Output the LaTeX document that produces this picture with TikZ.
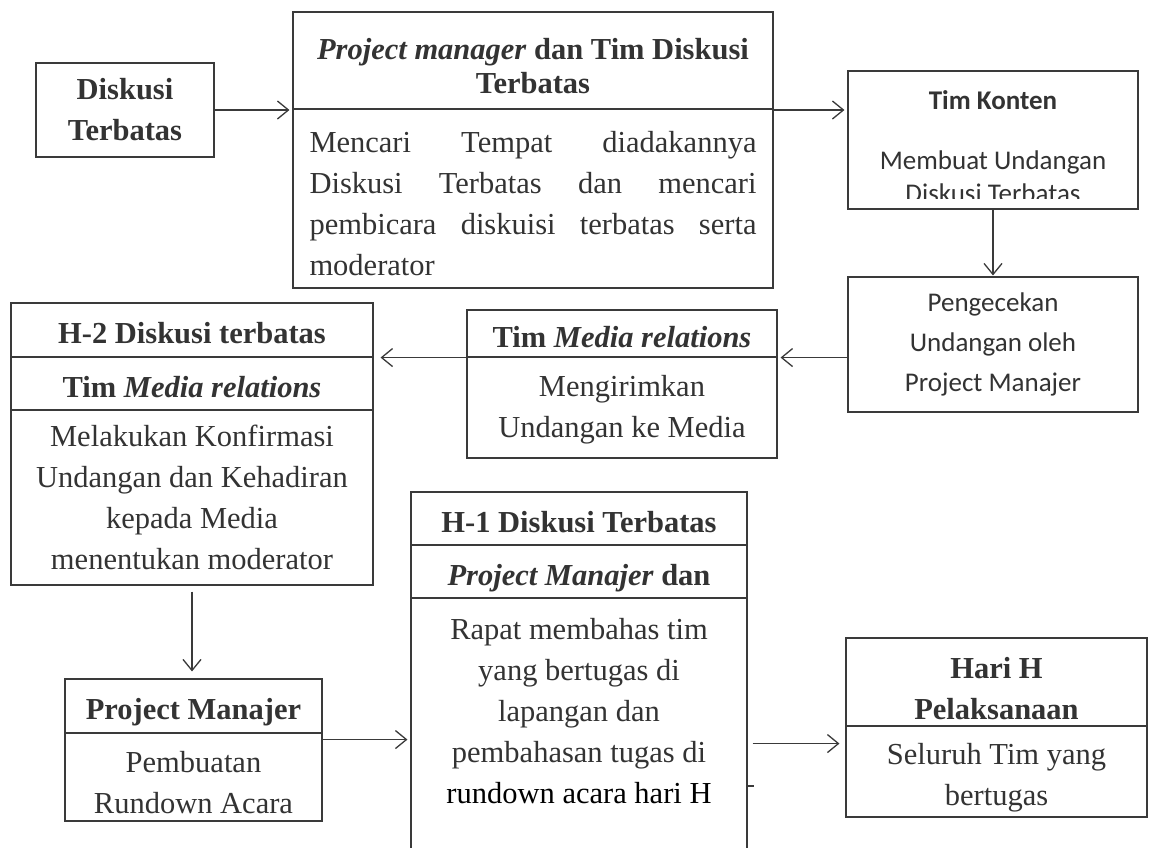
\documentclass[tikz,border=0pt]{standalone}
\usepackage{fontspec}
\setmainfont{Liberation Serif}
\newfontfamily\kalibri{Carlito}
\usetikzlibrary{arrows.meta}

\definecolor{garis}{HTML}{3A3A3A}
\definecolor{teks}{HTML}{333333}

\newcommand{\judul}{\fontsize{30.5pt}{41pt}\selectfont\bfseries}
\newcommand{\judulrapat}{\fontsize{30.5pt}{34pt}\selectfont\bfseries}
\newcommand{\isi}{\fontsize{30.5pt}{41pt}\selectfont}
\newcommand{\kalibrijudul}{\kalibri\fontsize{27pt}{33pt}\selectfont\bfseries}
\newcommand{\kalibriisi}{\kalibri\fontsize{27pt}{33pt}\selectfont}
\newcommand{\kalibrilonggar}{\kalibri\fontsize{27pt}{40pt}\selectfont}

\tikzset{
  kotak/.style={draw=garis, line width=1.1pt, inner sep=0pt, align=center, text=teks},
  judulsatu/.style={font=\judul, text height=27pt, text depth=0pt},
  tulisan/.style={inner sep=0pt, align=center, text=teks},
  panah/.style={draw=garis, line width=1.3pt, -{Straight Barb[length=11pt,width=18pt]}, shorten >=3pt},
}

\begin{document}
\begin{tikzpicture}[x=1pt,y=-1pt]
\useasboundingbox (0,0) rectangle (1151,847);
\fill[white] (0,0) rectangle (1151,847);

% baris atas
\node[kotak, font=\judul, minimum width=178pt, minimum height=94pt] (diskusi) at (125,110) {Diskusi\\Terbatas};

\node[kotak, minimum width=480pt, minimum height=97pt] (pmA) at (533,60.5) {};
\node[tulisan, font=\judulrapat] (pmjudul) at ([yshift=-6pt]pmA.center) {\textit{Project manager} dan Tim Diskusi\\Terbatas};
\node[kotak, minimum width=480pt, minimum height=179pt] (pmB) at (533,198.5) {};
\node[tulisan, font=\isi, text width=447pt, align=justify] (pmisi) at ([yshift=-5pt]pmB.center) {Mencari Tempat diadakannya\linebreak Diskusi Terbatas dan mencari\linebreak pembicara diskuisi terbatas serta\linebreak moderator};

\node[kotak, minimum width=290pt, minimum height=138pt] (konten) at (993,140) {};
\begin{scope}
\clip (konten.north west) rectangle ([yshift=11pt]konten.south east);
\node[tulisan, font=\kalibrijudul] (kontenjudul) at (993,100) {Tim Konten};
\node[tulisan, font=\kalibriisi] (kontenisi) at (993,177) {Membuat Undangan\\Diskusi Terbatas};
\end{scope}

\node[kotak, font=\kalibrilonggar, minimum width=290pt, minimum height=135pt] (cek) at (993,344.5) {Pengecekan\\Undangan oleh\\Project Manajer};

% baris tengah
\node[kotak, judulsatu, minimum width=310pt, minimum height=47pt] (medrelA) at (622,333.5) {Tim \textit{Media relations}};
\node[kotak, minimum width=310pt, minimum height=101pt] (medrelB) at (622,407.5) {};
\node[tulisan, font=\isi] (medrelisi) at ([yshift=-2pt]medrelB.center) {Mengirimkan\\Undangan ke Media};

\node[kotak, judulsatu, minimum width=362pt, minimum height=54pt] (h2A) at (192,330) {H-2 Diskusi terbatas};
\node[kotak, judulsatu, minimum width=362pt, minimum height=53pt] (h2B) at (192,383.5) {Tim \textit{Media relations}};
\node[kotak, font=\isi, minimum width=362pt, minimum height=175pt] (h2C) at (192,497.5) {Melakukan Konfirmasi\\Undangan dan Kehadiran\\kepada Media\\menentukan moderator};

% baris bawah
\node[kotak, judulsatu, minimum width=257pt, minimum height=54pt] (pmjA) at (193.5,706) {Project Manajer};
\node[kotak, minimum width=257pt, minimum height=88pt] (pmjB) at (193.5,777) {};
\node[tulisan, font=\isi] (pmjisi) at ([yshift=-6pt]pmjB.center) {Pembuatan\\Rundown Acara};

\node[kotak, judulsatu, minimum width=336pt, minimum height=53pt] (h1A) at (579,518.5) {H-1 Diskusi Terbatas};
\node[kotak, judulsatu, minimum width=336pt, minimum height=53pt] (h1B) at (579,571.5) {\textit{Project Manajer} dan};
\node[kotak, minimum width=336pt, minimum height=272pt] (h1C) at (579,734) {};
\node[tulisan, font=\isi] (h1isi) at (579,711) {Rapat membahas tim\\yang bertugas di\\lapangan dan\\pembahasan tugas di\\\textcolor{black}{rundown acara hari H}};

\node[kotak, minimum width=301pt, minimum height=88pt] (hariA) at (996.5,682) {};
\node[tulisan, font=\judul] (harijudul) at ([yshift=-7pt]hariA.center) {Hari H\\Pelaksanaan};
\node[kotak, minimum width=301pt, minimum height=91pt] (hariB) at (996.5,771.5) {};
\node[tulisan, font=\isi] (hariisi) at ([yshift=-6pt]hariB.center) {Seluruh Tim yang\\bertugas};

% panah
\draw[panah] (diskusi.east) -- (diskusi.east -| pmA.west);
\draw[panah] (pmA.east |- diskusi.east) -- (diskusi.east -| konten.west);
\draw[panah, shorten >=1pt] (konten.south) -- (cek.north);
\draw[panah] (cek.west |- medrelA.south) -- (medrelA.south east);
\draw[panah, shorten >=7pt] (medrelA.south west) -- (medrelA.south west -| h2B.east);
\draw[panah, shorten <=6pt, shorten >=7pt] (h2C.south) -- (h2C.south |- pmjA.north);
\draw[panah] ([yshift=-6pt]pmjA.south east) -- ([yshift=-6pt]pmjA.south east -| h1C.west);
\coordinate (masukH) at ([yshift=-17pt]hariA.south west);
\draw[panah, shorten <=5pt, shorten >=6pt] (h1C.east |- masukH) -- (masukH);
\draw[draw=garis, line width=2pt] (h1C.east |- 0,786) -- ++(6,0);
\end{tikzpicture}
\end{document}
